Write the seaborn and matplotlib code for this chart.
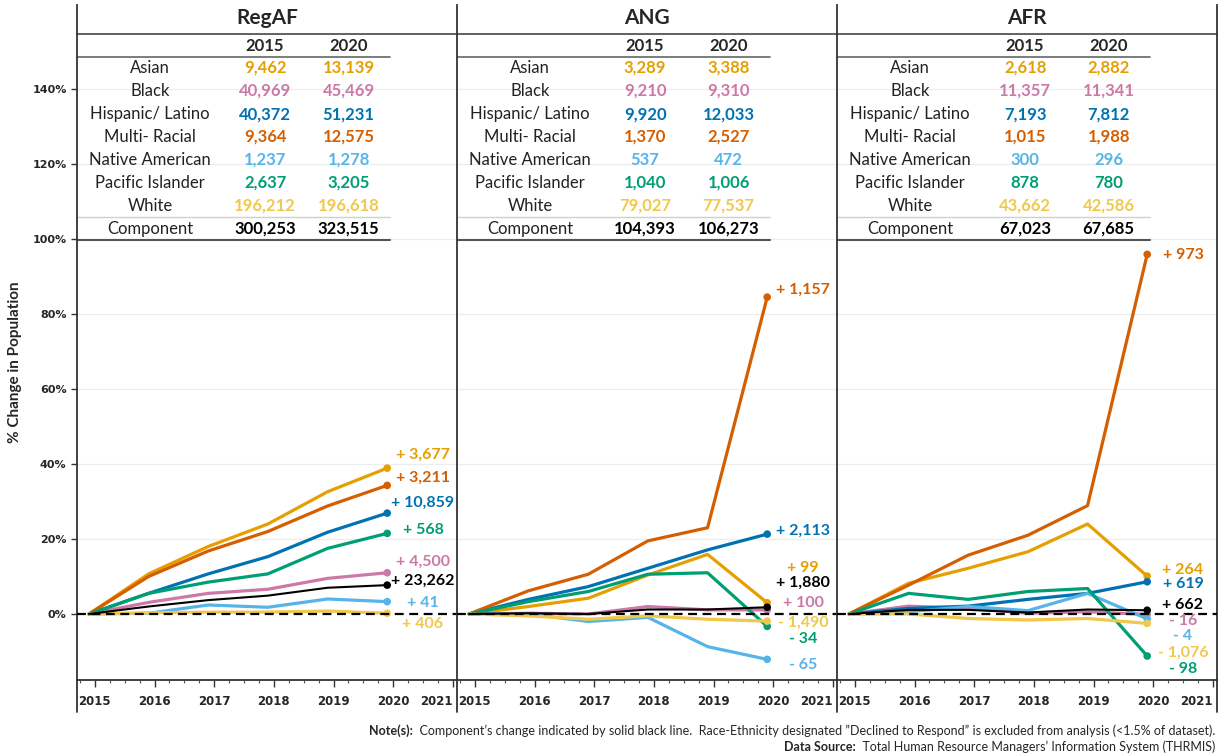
import numpy as np
import pandas as pd
import matplotlib
matplotlib.use("Agg")
import matplotlib.pyplot as plt
import seaborn as sns
from matplotlib.ticker import MultipleLocator, FuncFormatter
from matplotlib.lines import Line2D

# ---------------------------------------------------------
# data
# ---------------------------------------------------------
years = [2015, 2016, 2017, 2018, 2019, 2020]
groups = ["Asian", "Black", "Hispanic/ Latino", "Multi- Racial",
          "Native American", "Pacific Islander", "White", "Component"]
panels = ["RegAF", "ANG", "AFR"]

# % change vs 2015
regaf_pct = {
    "Asian":            [0, 10.7, 18.0, 24.0, 32.6, 38.9],
    "Black":            [0, 3.1, 5.5, 6.6, 9.5, 11.0],
    "Hispanic/ Latino": [0, 5.5, 10.7, 15.3, 21.8, 26.9],
    "Multi- Racial":    [0, 10.0, 16.8, 22.0, 28.8, 34.3],
    "Native American":  [0, 0.2, 2.4, 1.8, 4.0, 3.3],
    "Pacific Islander": [0, 5.5, 8.5, 10.7, 17.5, 21.5],
    "White":            [0, 0.3, 0.5, 0.5, 0.8, 0.2],
    "Component":        [0, 2.0, 3.7, 4.9, 7.0, 7.7],
}
ang_pct = {
    "Asian":            [0, 2.0, 4.2, 10.4, 15.9, 3.0],
    "Black":            [0, 0.2, 0.0, 2.0, 1.1, 1.1],
    "Hispanic/ Latino": [0, 3.9, 7.3, 12.2, 17.1, 21.3],
    "Multi- Racial":    [0, 6.2, 10.6, 19.5, 23.0, 84.5],
    "Native American":  [0, 0.0, -2.0, -0.9, -8.7, -12.1],
    "Pacific Islander": [0, 3.3, 6.0, 10.6, 11.0, -3.3],
    "White":            [0, -0.5, -1.4, -0.5, -1.4, -1.9],
    "Component":        [0, 0.2, 0.0, 1.2, 1.2, 1.8],
}
afr_pct = {
    "Asian":            [0, 8.2, 12.2, 16.6, 24.0, 10.1],
    "Black":            [0, 2.1, 1.5, 0.2, 0.6, -0.1],
    "Hispanic/ Latino": [0, 1.5, 2.1, 3.9, 5.5, 8.6],
    "Multi- Racial":    [0, 7.7, 15.7, 21.0, 28.9, 95.9],
    "Native American":  [0, 0.6, 2.0, 0.9, 5.5, -1.3],
    "Pacific Islander": [0, 5.5, 3.9, 6.0, 6.8, -11.2],
    "White":            [0, 0.0, -1.2, -1.6, -1.2, -2.5],
    "Component":        [0, 1.1, 1.1, 0.4, 1.2, 1.0],
}

# table counts (2015 / 2020)
regaf_2015 = [9462, 40969, 40372, 9364, 1237, 2637, 196212, 300253]
regaf_2020 = [13139, 45469, 51231, 12575, 1278, 3205, 196618, 323515]
ang_2015 = [3289, 9210, 9920, 1370, 537, 1040, 79027, 104393]
ang_2020 = [3388, 9310, 12033, 2527, 472, 1006, 77537, 106273]
afr_2015 = [2618, 11357, 7193, 1015, 300, 878, 43662, 67023]
afr_2020 = [2882, 11341, 7812, 1988, 296, 780, 42586, 67685]

colors = {
    "Asian": "#E69F00",
    "Black": "#CC79A7",
    "Hispanic/ Latino": "#0072B2",
    "Multi- Racial": "#D55E00",
    "Native American": "#56B4E9",
    "Pacific Islander": "#009E73",
    "White": "#F1C84B",
    "Component": "#000000",
}

# end label heights (layout only, in % units)
label_y = {
    "RegAF": [42.4, 13.9, 29.6, 36.3, 2.9, 22.4, -2.7, 8.8],
    "ANG":   [12.3, 2.9, 22.1, 86.4, -13.6, -6.7, -2.4, 8.3],
    "AFR":   [11.7, -1.8, 8.0, 95.7, -5.8, -14.6, -10.3, 2.4],
}

pct_data = {"RegAF": regaf_pct, "ANG": ang_pct, "AFR": afr_pct}
tab_2015 = {"RegAF": regaf_2015, "ANG": ang_2015, "AFR": afr_2015}
tab_2020 = {"RegAF": regaf_2020, "ANG": ang_2020, "AFR": afr_2020}

# ---------------------------------------------------------
# style
# ---------------------------------------------------------
sns.set_style("white")
plt.rcParams["font.family"] = ["Lato", "DejaVu Sans"]

fig = plt.figure(figsize=(12.21, 7.56), dpi=100)
W, H = 1221, 756

x_shift = -0.1           # points sit a little before the year tick
ylo, yhi = -17.6, 162.4
row_y = [145.6, 139.5, 133.3, 127.2, 121.1, 115.0, 108.8, 102.7]


def px_to_y(p):
    return (614 - p) / 3.75


def fmt_diff(a, b):
    d = b - a
    sign = "+" if d >= 0 else "-"
    return f"{sign} {abs(d):,}"


axes = []
for i, name in enumerate(panels):
    left = (77 + 380 * i) / W
    ax = fig.add_axes([left, 1 - 680 / H, 380 / W, (680 - 5) / H])
    axes.append(ax)

    df = pd.DataFrame([
        {"year": y + x_shift, "pct": v, "group": g}
        for g in groups for y, v in zip(years, pct_data[name][g])
    ])
    eth = df[df["group"] != "Component"]
    comp = df[df["group"] == "Component"]

    for yv in range(20, 160, 20):
        ax.axhline(yv, color="#EDEDED", lw=0.9, zorder=0)

    sns.lineplot(data=eth, x="year", y="pct", hue="group",
                 hue_order=groups[:-1], palette=colors, lw=2.3,
                 legend=False, ax=ax, zorder=3)
    sns.lineplot(data=comp, x="year", y="pct", color="black", lw=1.5,
                 legend=False, ax=ax, zorder=3)
    last = df[df["year"] == years[-1] + x_shift]
    sns.scatterplot(data=last, x="year", y="pct", hue="group",
                    hue_order=groups, palette=colors, s=30,
                    edgecolor="none", legend=False, ax=ax, zorder=4)

    ax.axhline(0, color="black", lw=1.6, ls=(0, (4, 2.5)), zorder=5)

    # end labels
    for g, ly, a, b in zip(groups, label_y[name], tab_2015[name], tab_2020[name]):
        ax.text(2020.5, ly, fmt_diff(a, b), color=colors[g], fontsize=11.5,
                fontweight="bold", ha="center", va="center", zorder=6)

    # title + table
    tr = ax.get_yaxis_transform()
    ax.text(0.5, px_to_y(18), name, transform=tr,
            ha="center", va="center", fontsize=15, fontweight="bold")
    ax.add_line(Line2D([0, 1], [px_to_y(34)] * 2, transform=tr,
                       color="#555555", lw=1.3, clip_on=False))
    ax.add_line(Line2D([0, 0.824], [px_to_y(57)] * 2, transform=tr,
                       color="#666666", lw=1.2))
    ax.add_line(Line2D([0, 0.824], [px_to_y(217)] * 2, transform=tr,
                       color="#D0D0D0", lw=1.0))
    ax.add_line(Line2D([0, 0.824], [px_to_y(240)] * 2, transform=tr,
                       color="#555555", lw=1.5))
    ax.text(0.495, px_to_y(46), "2015", transform=tr, ha="center",
            va="center", fontsize=12, fontweight="bold")
    ax.text(0.715, px_to_y(46), "2020", transform=tr, ha="center",
            va="center", fontsize=12, fontweight="bold")
    for g, ry, a, b in zip(groups, row_y, tab_2015[name], tab_2020[name]):
        ax.text(0.192, ry, g, transform=tr, ha="center", va="center",
                fontsize=12, color="#222222")
        c = colors[g]
        ax.text(0.495, ry, f"{a:,}", transform=tr, ha="center",
                va="center", fontsize=12, fontweight="bold", color=c)
        ax.text(0.715, ry, f"{b:,}", transform=tr, ha="center",
                va="center", fontsize=12, fontweight="bold", color=c)

    # axes
    ax.set_xlim(2014.70, 2021.07)
    ax.set_ylim(ylo, yhi)
    ax.set_xticks(range(2015, 2022))
    ax.xaxis.set_minor_locator(MultipleLocator(0.25))
    ax.set_xticklabels([str(y) for y in range(2015, 2022)],
                       fontsize=8.5, fontweight="bold", family="DejaVu Sans")
    ax.get_xticklabels()[-1].set_horizontalalignment("right")
    ax.tick_params(axis="x", which="major", length=5, width=1,
                   direction="out", pad=6, bottom=True, color="#333333")
    ax.tick_params(axis="x", which="minor", length=2.5, width=0.8,
                   bottom=True, color="#555555")
    ax.set_yticks(range(0, 160, 20))
    if i == 0:
        ax.yaxis.set_major_formatter(FuncFormatter(lambda v, p: f"{v:.0f}%"))
        for t in ax.get_yticklabels():
            t.set_fontweight("bold")
            t.set_family("DejaVu Sans")
            t.set_fontsize(8)
        ax.tick_params(axis="y", length=4, width=1, left=True, color="#333333")
    else:
        ax.set_yticklabels([])
        ax.tick_params(axis="y", length=0)
    ax.set_xlabel("")
    ax.set_ylabel("")
    ax.spines["top"].set_visible(False)
    ax.spines["right"].set_visible(i == 2)
    for s in ["left", "right", "bottom"]:
        ax.spines[s].set_color("#333333")
        ax.spines[s].set_linewidth(1.3)

# dividers running below the axis
for i in range(4):
    xf = (77 + 380 * i) / W
    fig.add_artist(Line2D([xf, xf], [1 - 712 / H, 1 - 680 / H],
                          color="#333333", lw=1.3))

fig.text(15 / W, 1 - 362 / H, "% Change in Population", rotation=90,
         ha="center", va="center", fontsize=11, fontweight="bold")

# footnotes
renderer = fig.canvas.get_renderer()
notes = [
    ("Note(s):", "  Component’s change indicated by solid black line.  "
                 "Race-Ethnicity designated ”Declined to Respond” is excluded "
                 "from analysis (<1.5% of dataset).", 731),
    ("Data Source:", "  Total Human Resource Managers’ Information System (THRMIS)", 747),
]
for bold, rest, py in notes:
    t = fig.text(1215 / W, 1 - py / H, rest, ha="right", va="center", fontsize=9)
    bb = t.get_window_extent(renderer)
    fig.text(bb.x0 / fig.bbox.width, 1 - py / H, bold, ha="right",
             va="center", fontsize=9, fontweight="bold")

fig.savefig("out.png", dpi=100)
